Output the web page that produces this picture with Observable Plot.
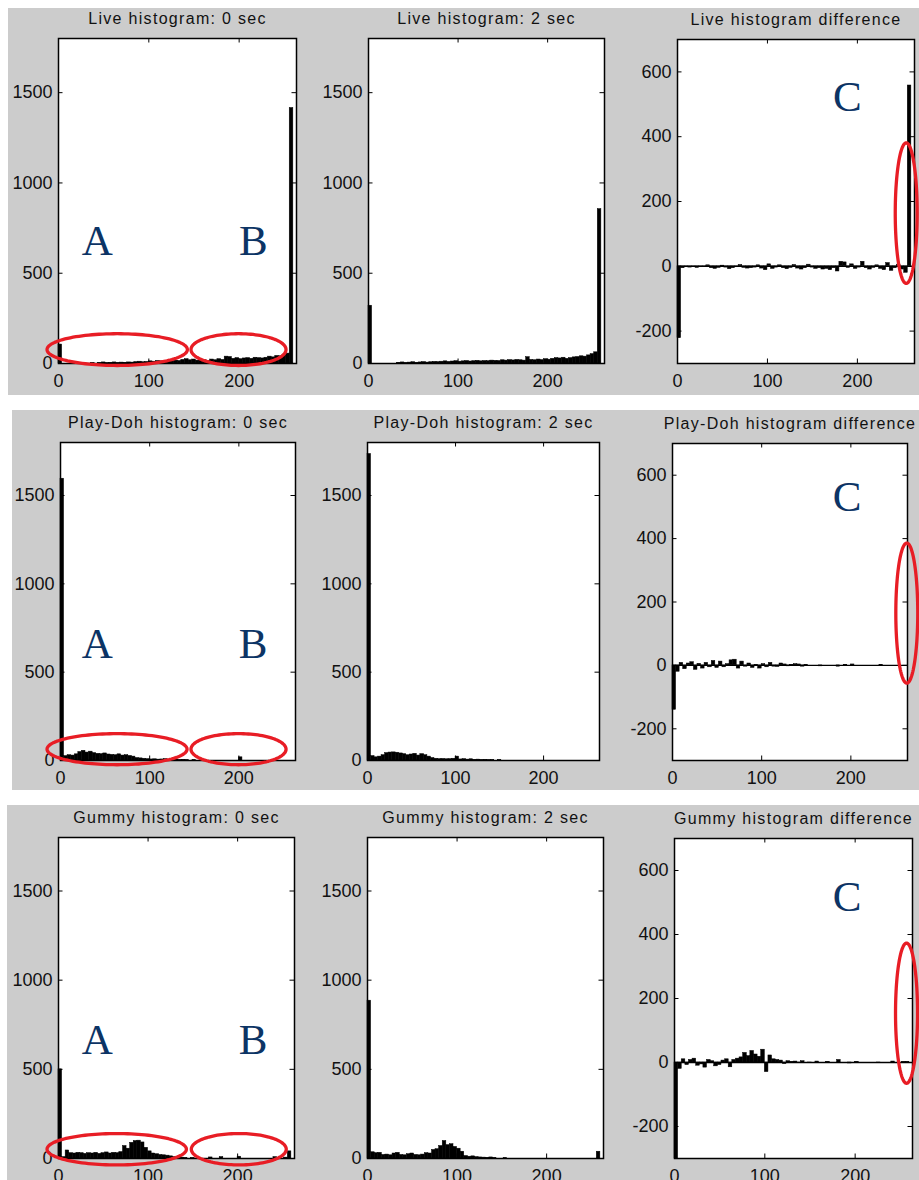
<!DOCTYPE html>
<html><head><meta charset="utf-8">
<script src="https://cdn.jsdelivr.net/npm/d3@7"></script>
<script src="https://cdn.jsdelivr.net/npm/@observablehq/plot@0.6"></script>
<style>
html,body{margin:0;padding:0;background:#fff;overflow:hidden;}
#page{position:relative;width:919px;height:1180px;overflow:hidden;background:#fff;}
.strip{position:absolute;background:#cccccc;}
#page svg{position:absolute;left:0;}
</style></head><body><div id="page"></div>
<script>
// ---- data: 65 bins of 4 grey levels each (0..260) ----
const BIN = 4;
const XMAX = 263.5;
const xTicks = [0, 100, 200];
const histTicks = [0, 500, 1000, 1500];
const diffTicks = [-200, 0, 200, 400, 600];
const histDomain = [0, 1800];
const diffDomain = [-300, 700];

const live0 = [105,0,0,0,0,0,0,0,0,2, 0,3,6,2,4,6,3,5,4,6, 5,8,10,7,9,12,10,14,12,15,
  13,12,16,14,20,24,18,22,16,20, 18,15,22,18,24,20,38,36,26,30, 24,28,30,26,32,30,28,32,38,34, 42,40,48,55,1415];
const live2 = [320,0,0,0,0,0,0,0,4,6, 3,5,7,4,6,8,5,7,9,8, 10,12,9,11,13,10,12,14,11,13,
  15,12,14,13,16,15,14,18,16,19, 17,20,18,16,35,20,18,22,19,24, 21,26,30,28,32,26,30,34,36,40, 38,45,52,62,855];
const liveDiff = [-222,-6,-3,-4,-2,-5,-3,-2,3,-6, -8,-5,2,-4,-9,-6,-3,4,-5,-7, -6,-4,3,-7,-12,6,-8,-4,3,-6,
  -9,-5,4,-7,-10,-6,5,-4,-8,-6, -10,-8,-12,-6,-16,14,12,-5,6,-8, -4,14,-6,-10,-5,3,-8,-12,10,-14, -6,5,-10,-20,558];

const pd0 = [1595,25,30,28,35,48,55,45,50,42, 38,36,40,34,32,30,35,28,30,26, 22,14,12,10,8,6,7,5,6,8,
  4,5,6,3,4,2,0,2,0,1, 0,0,0,0,0,0,0,0,0,0, 18,0,0,0,0,0,0,0,0,0, 0,0,0,0,0];
const pd2 = [1735,25,18,22,30,42,45,46,44,40, 36,30,34,38,28,36,30,22,14,10, 8,9,7,8,10,22,6,8,5,7,
  4,5,3,4,2,3,0,2,0,0, 0,0,0,0,0,0,0,0,0,0, 0,0,0,0,0,0,0,0,0,0, 0,0,0,0,0];
const pdDiff = [-140,-20,8,-12,6,10,-14,5,-10,8, -6,14,-8,12,-6,4,16,18,-10,12, -4,6,-8,2,-10,4,-6,8,-4,-5,
  6,3,-3,2,4,3,-4,2,0,0, 0,-3,0,0,0,0,-4,0,2,0, 3,0,0,0,0,0,0,0,2,0, 0,0,0,0,0];

const gum0 = [500,8,45,30,28,32,30,26,30,28, 32,26,30,34,28,32,30,36,70,55, 88,98,100,90,60,40,28,24,20,18,
  16,12,8,6,5,3,0,2,0,0, 0,0,6,0,0,8,0,0,0,0, 10,0,0,0,0,0,0,0,0,0, 8,0,0,5,40];
const gum2 = [885,35,30,32,20,22,18,28,32,20, 18,24,28,20,18,22,30,28,48,52, 70,98,75,80,65,55,38,14,10,12,
  8,6,5,4,6,3,0,0,2,0, 0,0,0,0,0,0,0,0,0,0, 0,0,0,0,0,0,0,0,0,0, 0,0,0,0,38];
const gumDiff = [-385,-20,10,-8,8,12,-10,-6,-16,8, 4,-12,-8,6,10,-15,8,12,16,30, 20,36,25,18,40,-30,22,10,8,6,
  -5,4,2,3,-2,4,0,-2,0,3, 0,0,2,0,0,8,0,0,-3,0, 2,0,0,0,0,0,-2,0,0,0, 3,0,0,2,2];

const titles = [
  ["Live histogram: 0 sec", "Live histogram: 2 sec", "Live histogram difference"],
  ["Play-Doh histogram: 0 sec", "Play-Doh histogram: 2 sec", "Play-Doh histogram difference"],
  ["Gummy histogram: 0 sec", "Gummy histogram: 2 sec", "Gummy histogram difference"]
];
const series = [[live0, live2, liveDiff], [pd0, pd2, pdDiff], [gum0, gum2, gumDiff]];

// annotation letters (data units of each panel)
const letters = [
  {row:0, col:0, label:"A", x:42.8, y:677}, {row:0, col:0, label:"B", x:215.6, y:677}, {row:0, col:2, label:"C", x:188.7, y:522},
  {row:1, col:0, label:"A", x:41.2, y:660}, {row:1, col:0, label:"B", x:216, y:660}, {row:1, col:2, label:"C", x:195.9, y:530},
  {row:2, col:0, label:"A", x:43.2, y:662}, {row:2, col:0, label:"B", x:217.4, y:662}, {row:2, col:2, label:"C", x:191.2, y:516}
];
// red ellipses (center and radii in data units)
const ellipses = [
  {row:0, col:0, cx:65, cy:77, rx:77.7, ry:88}, {row:0, col:0, cx:199.3, cy:77, rx:52.6, ry:88}, {row:0, col:2, cx:254.3, cy:164, rx:12.2, ry:217},
  {row:1, col:0, cx:63.4, cy:64, rx:78.5, ry:88}, {row:1, col:0, cx:199.6, cy:64, rx:53.3, ry:88}, {row:1, col:2, cx:262.7, cy:165, rx:12.3, ry:221},
  {row:2, col:0, cx:65, cy:52, rx:77.8, ry:88}, {row:2, col:0, cx:201.3, cy:52, rx:53, ry:88}, {row:2, col:2, cx:256.9, cy:154, rx:12.2, ry:219}
];

// ---- layout ----
const strips = [{top:8, bottom:395, left:8}, {top:410, bottom:790, left:12}, {top:805, bottom:1180, left:7}];
const boxes = [
  [[58,38,296,363], [368,38,604,363], [677,39,914,363]],
  [[60,442,295,760], [367,442,599,760], [672,443,907,760]],
  [[58,837,294,1158], [367,837,603,1158], [674,838,912,1158]]
];

const page = document.getElementById("page");
strips.forEach(s => {
  const d = document.createElement("div");
  d.className = "strip";
  Object.assign(d.style, {top: s.top + "px", left: s.left + "px", width: (919 - s.left) + "px", height: (s.bottom - s.top) + "px"});
  page.appendChild(d);
});

const textColor = "#111111";
for (let r = 0; r < 3; r++) {
  for (let c = 0; c < 3; c++) {
    const s = strips[r];
    const [bl, bt, br, bb] = boxes[r][c];
    const isDiff = c === 2;
    const dom = isDiff ? diffDomain : histDomain;
    const yTicks = isDiff ? diffTicks : histTicks;
    const vals = series[r][c];
    const bins = vals.map((v, k) => ({x1: k * BIN, x2: (k + 1) * BIN, v}));
    const tx = 4.5 * XMAX / (br - bl);
    const ty = 4.5 * (dom[1] - dom[0]) / (bb - bt);
    const ell = ellipses.filter(e => e.row === r && e.col === c);
    const ellPts = [];
    ell.forEach((e, i) => {
      for (let a = 0; a < 120; a++) {
        const t = a / 120 * 2 * Math.PI;
        ellPts.push({id: i, x: e.cx + e.rx * Math.cos(t), y: e.cy + e.ry * Math.sin(t)});
      }
    });
    const lets = letters.filter(e => e.row === r && e.col === c);
    const marks = [];
    marks.push(Plot.frame({fill: "white", stroke: null}));
    if (isDiff) marks.push(Plot.ruleY([0], {stroke: "black", strokeWidth: 1.3}));
    marks.push(Plot.rectY(bins, {x1: "x1", x2: "x2", y1: () => 0, y2: "v", fill: "black", stroke: "black", strokeWidth: 0.5}));
    marks.push(Plot.frame({stroke: "black", strokeWidth: 1.5}));
    marks.push(Plot.ruleX(xTicks, {x: d => d, y1: dom[0], y2: dom[0] + ty, stroke: "black"}));
    marks.push(Plot.ruleX(xTicks, {x: d => d, y1: dom[1] - ty, y2: dom[1], stroke: "black"}));
    marks.push(Plot.ruleY(yTicks, {y: d => d, x1: 0, x2: tx, stroke: "black"}));
    marks.push(Plot.ruleY(yTicks, {y: d => d, x1: XMAX - tx, x2: XMAX, stroke: "black"}));
    marks.push(Plot.axisX({ticks: xTicks, anchor: "bottom", tickSize: 0, tickPadding: 11, fontSize: 18, tickFormat: d => String(d), label: null, fill: textColor}));
    marks.push(Plot.axisY({ticks: yTicks, anchor: "left", tickSize: 0, tickPadding: 6, fontSize: 18, tickFormat: d => String(d), label: null, fill: textColor}));
    marks.push(Plot.text([titles[r][c]], {text: d => d, frameAnchor: "top", dy: -15, lineAnchor: "bottom", fontSize: 16, fill: textColor}));
    if (lets.length) marks.push(Plot.text(lets, {x: "x", y: "y", text: "label", fontFamily: "'Liberation Serif','Times New Roman',serif", fontSize: 43, fill: "#0c3465"}));
    if (ellPts.length) marks.push(Plot.line(ellPts, {x: "x", y: "y", z: "id", stroke: "#e81d25", strokeWidth: 3.3, curve: "linear-closed"}));

    const svg = Plot.plot({
      width: 919,
      height: s.bottom - s.top,
      marginLeft: bl,
      marginRight: 919 - br,
      marginTop: bt - s.top,
      marginBottom: s.bottom - bb,
      x: {domain: [0, XMAX]},
      y: {domain: dom, clamp: isDiff},
      style: {background: "transparent", overflow: "visible", fontFamily: "'Liberation Sans', Arial, sans-serif", color: textColor},
      marks
    });
    // widen title letter spacing like the MATLAB bitmap font
    svg.querySelectorAll("text").forEach(t => {
      if (t.textContent === titles[r][c]) t.setAttribute("letter-spacing", "1.3");
    });
    svg.style.top = s.top + "px";
    page.appendChild(svg);
  }
}
</script></body></html>
